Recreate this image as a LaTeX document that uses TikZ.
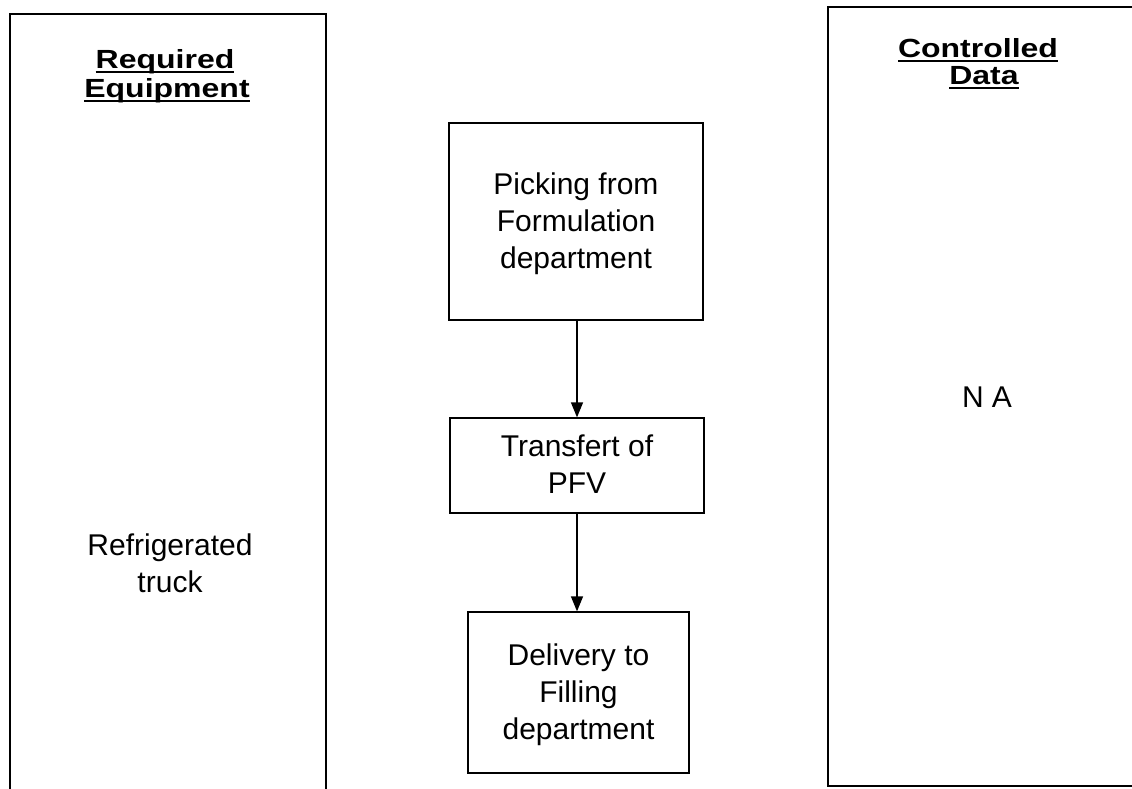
\documentclass[tikz,border=0pt]{standalone}
\usepackage{fontspec}
\setmainfont{Liberation Sans}
\usetikzlibrary{arrows.meta}
\newcommand{\sst}{\rule[-9pt]{0pt}{37pt}}
\newcommand{\myul}[1]{\setbox0\hbox{#1}\rlap{\rule[-6pt]{\wd0}{2.4pt}}\box0}
\newcommand{\hdr}[1]{\scalebox{1}[0.82]{\myul{#1}}}
\begin{document}
\begin{tikzpicture}[x=1pt,y=1pt,
  panel/.style={line width=1.5pt},
  body/.style={font=\fontsize{30}{37}\selectfont, align=center, inner sep=0pt},
  head/.style={font=\bfseries\fontsize{32}{36}\selectfont, anchor=base, inner sep=0pt},
  stepbox/.style={draw, line width=1.3pt, body},
  flow/.style={line width=1.3pt, -{Triangle[length=15pt,width=12pt]}}]
\path[use as bounding box, clip] (0,0) rectangle (1132,-788);
% column panels
\coordinate (lbl) at (10,-800);
\coordinate (ltl) at (10,-14);
\coordinate (ltr) at (326,-14);
\coordinate (lbr) at (326,-800);
\draw[panel] (lbl) -- (ltl) -- (ltr) -- (lbr);
\coordinate (rtr) at (1145,-7);
\coordinate (rtl) at (828,-7);
\coordinate (rbl) at (828,-786);
\coordinate (rbr) at (1145,-786);
\draw[panel] (rtr) -- (rtl) -- (rbl) -- (rbr);
% headers
\node[head] (hreq1) at (165,-68) {\hdr{Required}};
\node[head] (hreq2) at (167,-97) {\hdr{Equipment}};
\node[head] (hcd1) at (978,-57) {\hdr{Controlled}};
\node[head] (hcd2) at (984,-84) {\hdr{Data}};
% column texts
\node[body] (truck) at (170,-564) {\fontsize{30}{39}\selectfont\sst Refrigerated\\\sst truck};
\node[body, anchor=base] (na) at (987,-407) {N A};
% flow boxes
\node[stepbox, minimum width=254pt, minimum height=197pt] (b1) at (576,-221.5)
  {\sst Picking from\\\sst Formulation\\\sst department};
\node[stepbox, minimum width=254pt, minimum height=95pt] (b2) at (577,-465.5)
  {\sst Transfert of\\\sst PFV};
\node[stepbox, minimum width=221pt, minimum height=161pt] (b3) at (578.5,-692.5)
  {\sst Delivery to\\\sst Filling\\\sst department};
\draw[flow] (b2.north |- b1.south) -- (b2.north);
\draw[flow] (b2.south) -- (b2.south |- b3.north);
\end{tikzpicture}
\end{document}
